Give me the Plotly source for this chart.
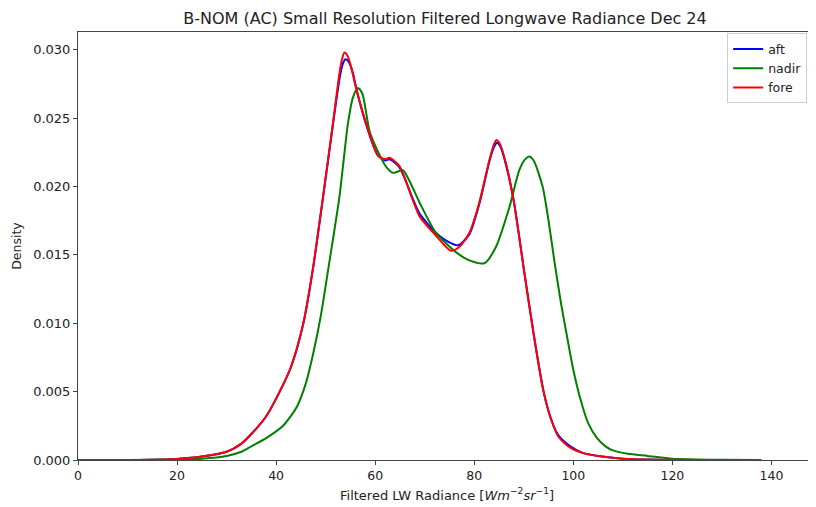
import plotly.graph_objects as go

# ---- data ----
aft_x = [0, 10, 15, 20, 25, 30, 33, 35, 38, 41, 43, 45.5, 47.4, 49.5, 51.5, 52.8, 53.4, 54.0, 54.7,
         55.5, 56.3, 58.2, 60.5, 62, 62.9, 64.9, 67.6, 69, 72.3, 74.5, 76.7, 79, 81, 83.1, 84.0,
         84.6, 85.3, 86.4, 88, 90, 92, 94, 95.5, 97, 99.4, 102, 105, 110, 115, 120, 130, 135]
aft_y = [0, 0, 0.00002, 0.00008, 0.00025, 0.0006, 0.0012, 0.0019, 0.0032, 0.0052, 0.0068, 0.0100,
         0.0139, 0.0193, 0.0246, 0.0279, 0.0289, 0.0293, 0.0291,
         0.0283, 0.0270, 0.0245, 0.0223, 0.0219, 0.0220, 0.0214, 0.0191, 0.0180, 0.0166, 0.0160,
         0.0157, 0.0165, 0.0187, 0.0219, 0.0229,
         0.0232, 0.0229, 0.0216, 0.0189, 0.0140, 0.0092, 0.0050, 0.0030, 0.0018, 0.0010, 0.0005,
         0.0003, 0.0001, 0.00003, 0.00001, 0, 0]

nadir_x = [0, 10, 20, 25, 30, 33, 35, 38, 41.4, 44.2, 46, 47.5, 49, 50.5, 52.8, 54.5, 55.5, 56.5,
           57.4, 58.9, 60.9, 62.3, 63.6, 64.6, 65.6, 66.8, 69, 72.3, 76.3, 79, 82.1, 84.4, 87.1,
           89.1, 90.3, 91.1, 92.0, 93.8, 95.0, 96.2, 97.5, 98.8, 100, 101.4, 103, 104.8, 106.5,
           108, 111, 115, 120, 125, 130, 138]
nadir_y = [0, 0, 0.00003, 0.0001, 0.0003, 0.0006, 0.0010, 0.0016, 0.0025, 0.0039, 0.0056, 0.0078,
           0.0105, 0.0139, 0.0193, 0.0246, 0.0265, 0.0272,
           0.0268, 0.0240, 0.0223, 0.0214, 0.0210, 0.0211, 0.0212, 0.0205, 0.0188, 0.0166, 0.0152,
           0.0146, 0.0144, 0.0156, 0.0185,
           0.0212, 0.0220, 0.0222, 0.0219, 0.0200, 0.0175, 0.0145, 0.0115, 0.0089, 0.0066, 0.0045,
           0.0027, 0.0016, 0.0010, 0.0007, 0.00045, 0.0003, 0.0001, 0.00004, 0.00001, 0]

fore_x = [0, 10, 15, 20, 25, 30, 33, 35, 38, 41, 43, 45.5, 47.4, 49.5, 51.5, 52.8, 53.3, 53.8,
          54.5, 55.3, 56.2, 58.2, 60.5, 62, 62.9, 64.9, 67.6, 69, 72.3, 75.3, 77, 79, 81, 83.1,
          84.0, 84.5, 85.2, 86.4, 88, 90, 92, 94, 95.5, 97, 99.4, 102, 105, 110, 115, 120, 130, 135]
fore_y = [0, 0, 0.00002, 0.00008, 0.00025, 0.0006, 0.0012, 0.0019, 0.0032, 0.0052, 0.0068, 0.0100,
          0.0139, 0.0193, 0.0247, 0.0283, 0.0293, 0.0298, 0.0295, 0.0285, 0.0271, 0.0246, 0.0223,
          0.0220, 0.0221, 0.0215, 0.0190, 0.0178, 0.0164, 0.0153, 0.0156, 0.0166, 0.0188, 0.0220,
          0.0231, 0.0234, 0.0231, 0.0217, 0.0189, 0.0140, 0.0092,
          0.0050, 0.0030, 0.0017, 0.0009, 0.0005, 0.0003, 0.0001, 0.00003, 0.00001, 0, 0]

x_ticks = [0, 20, 40, 60, 80, 100, 120, 140]
y_ticks = [0.000, 0.005, 0.010, 0.015, 0.020, 0.025, 0.030]

series = [("aft", aft_x, aft_y, "#0000ff"),
          ("nadir", nadir_x, nadir_y, "#008000"),
          ("fore", fore_x, fore_y, "#ff0000")]

FONT = "DejaVu Sans"
TXT = "#222222"

# the page body has an 8px margin, so the figure is sized to fill the window exactly
W, H = 808, 499

fig = go.Figure()
for name, xs, ys, col in series:
    fig.add_trace(go.Scatter(x=xs, y=ys, name=name, mode="lines",
                             line=dict(color=col, width=2, shape="spline", smoothing=0.7)))

fig.update_layout(
    width=W, height=H,
    margin=dict(l=70, r=0, t=24, b=47, autoexpand=False),
    paper_bgcolor="white", plot_bgcolor="white",
    font=dict(family=FONT, size=12, color=TXT),
    title=dict(text="B-NOM (AC) Small Resolution Filtered Longwave Radiance Dec 24",
               x=437 / W, xanchor="center", y=1 - 10 / H, yanchor="middle",
               automargin=False,
               font=dict(family=FONT, size=16, color=TXT)),
    showlegend=True,
    legend=dict(x=0.988, xanchor="right", y=0.997, yanchor="top",
                bgcolor="white", bordercolor="#cccccc", borderwidth=1,
                font=dict(family=FONT, size=12.5, color=TXT),
                tracegroupgap=0, itemwidth=30),
)

fig.update_xaxes(range=[0, 149], tickvals=x_ticks, ticktext=[str(t) for t in x_ticks],
                 automargin=False,
                 showgrid=False, zeroline=False, showline=True, linecolor="#444444",
                 linewidth=1, mirror=True, ticks="outside", ticklen=4, tickcolor="#444444",
                 tickfont=dict(family=FONT, size=12.5, color=TXT),
                 title=dict(text="Filtered LW Radiance [<i>Wm</i><sup>−2</sup><i>sr</i><sup>−1</sup>]",
                            font=dict(family=FONT, size=13, color=TXT), standoff=8))
fig.update_yaxes(range=[0, 0.0313], tickvals=y_ticks, ticktext=[f"{t:.3f}" for t in y_ticks],
                 automargin=False,
                 showgrid=False, zeroline=False, showline=True, linecolor="#444444",
                 linewidth=1, mirror=False, ticks="outside", ticklen=4, tickcolor="#444444",
                 tickfont=dict(family=FONT, size=13, color=TXT),
                 title=dict(text="Density", font=dict(family=FONT, size=12.5, color=TXT),
                            standoff=8))

fig.write_html("out.html")
